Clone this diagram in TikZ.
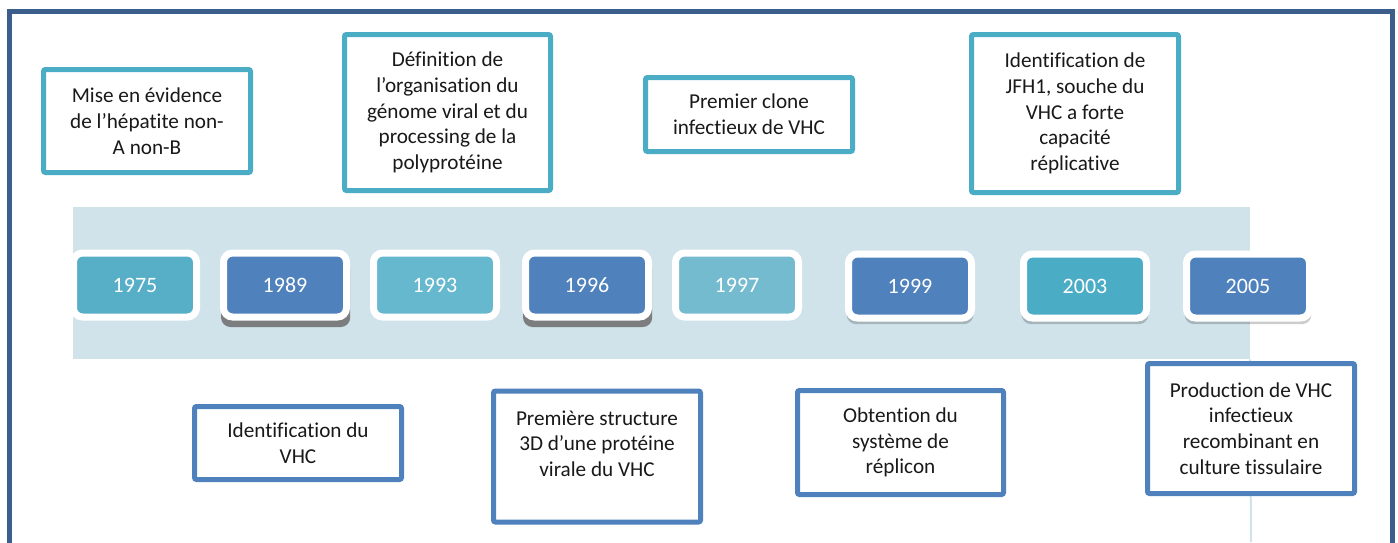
\documentclass[tikz,border=0pt]{standalone}
\usepackage{fontspec}
\setmainfont{Carlito}[Ligatures=NoCommon]
\usetikzlibrary{shadows}

\definecolor{framblue}{RGB}{59,94,140}
\definecolor{bandblue}{RGB}{208,227,235}
\definecolor{tealbd}{RGB}{75,172,198}
\definecolor{bluebd}{RGB}{79,129,189}
\definecolor{yrA}{RGB}{86,174,199}
\definecolor{yrB}{RGB}{102,184,206}
\definecolor{yrC}{RGB}{117,187,208}

\begin{document}
\begin{tikzpicture}[x=0.5pt, y=-0.5pt,
    every node/.style={font=\fontsize{10.6}{12.9}\selectfont},
    event/.style={draw, line width=2.5pt, fill=white, rounded corners=1pt, align=center,
                  inner sep=0pt, minimum width=103.5pt, text=black!90},
    topevt/.style={event, draw=tealbd},
    botevt/.style={event, draw=bluebd},
    year/.style={draw=white, line width=3.5pt, rounded corners=4.5pt, text=white,
                 font=\fontsize{11}{13}\selectfont,
                 inner sep=0pt, minimum width=61.5pt, minimum height=32pt},
    hardshadow/.style={drop shadow={shadow xshift=0.3pt, shadow yshift=-4pt, shadow scale=1.05,
                 fill=black!55, opacity=0.9}},
    softshadow/.style={drop shadow={shadow xshift=0pt, shadow yshift=-2.5pt, shadow scale=1.03,
                 fill=black, opacity=0.2}}]
  \useasboundingbox (0,0) rectangle (1398,542);
  \fill[white] (0,0) rectangle (1398,542);

  % frame
  \draw[framblue, line width=2.5pt] (9.5,11) rectangle (1392,620);

  % band
  \node[fill=bandblue, inner sep=0pt, minimum width=588.5pt, minimum height=76pt] (band) at (661.5,283) {};
  \coordinate (bandend) at (1251,542);
  \draw[bandblue, line width=1pt] ([xshift=-0.25pt]band.south east) -- (bandend);

  % years
  \node[year, fill=yrA] (y1975) at (135,285) {1975};
  \node[year, fill=bluebd, hardshadow] (y1989) at (285,285) {1989};
  \node[year, fill=yrB] (y1993) at (435,285) {1993};
  \node[year, fill=bluebd, hardshadow] (y1996) at (587,285) {1996};
  \node[year, fill=yrC] (y1997) at (737,285) {1997};
  \node[year, fill=bluebd, softshadow] (y1999) at (910,286) {1999};
  \node[year, fill=tealbd, softshadow] (y2003) at (1085,286) {2003};
  \node[year, fill=bluebd, softshadow] (y2005) at (1248,286) {2005};

  % events above
  \node[topevt, minimum height=51.5pt] (e1975) at (147,121) {Mise en évidence\\de l’hépatite non-\\A non-B};
  \node[topevt, minimum height=78pt, minimum width=103pt] (e1993) at (447.5,112.5)
       {Définition de\\l’organisation du\\génome viral et du\\processing de la\\polyprotéine};
  \node[topevt, minimum height=37pt] (e1997) at (749,114.5) {Premier clone\\infectieux de VHC};
  \node[topevt, minimum height=79pt] (e2003) at (1075,113.5)
       {Identification de\\JFH1, souche du\\VHC a forte\\capacité\\réplicative};

  % events below
  \node[botevt, minimum height=36.5pt] (e1989) at (298,443) {Identification du\\VHC};
  \node[botevt, minimum height=65.5pt] (e1996) at (597,456.5)
       {Première structure\\3D d’une protéine\\virale du VHC\\\mbox{}};
  \node[botevt, minimum height=52pt, minimum width=103pt] (e1999) at (900.5,442.5)
       {Obtention du\\système de\\réplicon};
  \node[botevt, minimum height=65pt] (e2005) at (1251,428.5)
       {Production de VHC\\infectieux\\recombinant en\\culture tissulaire};
\end{tikzpicture}
\end{document}
